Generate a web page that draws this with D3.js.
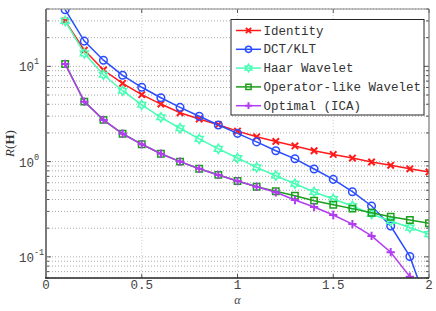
<!DOCTYPE html>
<html><head><meta charset="utf-8">
<script src="https://cdn.jsdelivr.net/npm/d3@7"></script>
<style>body{margin:0;background:#fff}svg{display:block}</style>
</head><body><svg id="c" width="436" height="311"></svg>
<script>
const alpha = [0.1,0.2,0.3,0.4,0.5,0.6,0.7,0.8,0.9,1.0,1.1,1.2,1.3,1.4,1.5,1.6,1.7,1.8,1.9,2.0];
const identity = [30,14.8,9.15,6.64,5.04,4.02,3.26,2.80,2.44,2.09,1.82,1.63,1.46,1.30,1.19,1.09,0.99,0.914,0.84,0.78];
const dct = [39.3,18.4,11.6,8.05,6.03,4.68,3.71,2.99,2.42,1.98,1.61,1.30,1.07,0.836,0.651,0.483,0.342,0.211,0.101,0.028];
const haar = [30,13.7,8.17,5.55,3.95,2.92,2.24,1.73,1.36,1.09,0.87,0.711,0.586,0.48,0.405,0.342,0.282,0.238,0.203,0.173];
const operatorLike = [10.6,4.26,2.74,1.96,1.52,1.21,1.0,0.84,0.725,0.625,0.545,0.488,0.438,0.389,0.353,0.321,0.291,0.264,0.244,0.225];
const optimal = [10.6,4.26,2.74,1.96,1.52,1.21,1.0,0.84,0.725,0.625,0.545,0.476,0.395,0.334,0.275,0.221,0.166,0.112,0.062,0.025];
const seriesNames = ["Identity","DCT/KLT","Haar Wavelet","Operator-like Wavelet","Optimal (ICA)"];
const xTicks = [0,0.5,1,1.5,2];
const xTickLabels = ["0","0.5","1","1.5","2"];
const yMajorTicks = [0.1,1,10];
const yTickExps = ["-1","0","1"];

const series = [
  {name:seriesNames[0], values:identity, color:"#ff1a1a", marker:"x"},
  {name:seriesNames[1], values:dct, color:"#2a4dff", marker:"o"},
  {name:seriesNames[2], values:haar, color:"#47ffb4", marker:"h"},
  {name:seriesNames[3], values:operatorLike, color:"#1d9e1d", marker:"s"},
  {name:seriesNames[4], values:optimal, color:"#b23cf0", marker:"+"}
];

const svg = d3.select("#c");
const L=46,R=429,T=9,B=278;
const x = d3.scaleLinear().domain([0,2]).range([L,R]);
const y = d3.scaleLog().domain([0.06,40]).range([B,T]);
const mono = "'Liberation Mono','DejaVu Sans Mono',monospace";

const yAll = [];
for (let e=-2;e<=1;e++) for (let m=1;m<=9;m++){const v=m*Math.pow(10,e); if(v>=0.06&&v<=40) yAll.push(v);}

const grid = svg.append("g");
grid.selectAll("line.h").data(yAll).join("line")
  .attr("x1",L).attr("x2",R).attr("y1",d=>y(d)).attr("y2",d=>y(d))
  .attr("stroke","#a8a8a8").attr("stroke-width",1).attr("stroke-dasharray","1,2");
grid.selectAll("line.v").data(xTicks.slice(1,-1)).join("line")
  .attr("y1",T).attr("y2",B).attr("x1",d=>x(d)).attr("x2",d=>x(d))
  .attr("stroke","#d0d0d0").attr("stroke-width",1).attr("stroke-dasharray","1,2");

const tk = svg.append("g").attr("stroke","#555");
yAll.forEach(v=>{
  const len = yMajorTicks.includes(v)?5:3;
  tk.append("line").attr("x1",L).attr("x2",L+len).attr("y1",y(v)).attr("y2",y(v));
  tk.append("line").attr("x1",R).attr("x2",R-len).attr("y1",y(v)).attr("y2",y(v));
});
xTicks.forEach(v=>{
  tk.append("line").attr("x1",x(v)).attr("x2",x(v)).attr("y1",B).attr("y2",B-4);
  tk.append("line").attr("x1",x(v)).attr("x2",x(v)).attr("y1",T).attr("y2",T+4);
});

svg.append("clipPath").attr("id","clip").append("rect").attr("x",L).attr("y",T).attr("width",R-L).attr("height",B-T);

function markerPath(type, s){
  if(type==="x") return `M${-s},${-s}L${s},${s}M${-s},${s}L${s},${-s}`;
  if(type==="+") return `M${-s*1.3},0L${s*1.3},0M0,${-s*1.3}L0,${s*1.3}`;
  if(type==="s") return `M${-s},${-s}H${s}V${s}H${-s}Z`;
  if(type==="o") return d3.symbol(d3.symbolCircle, Math.PI*s*s*1.4)();
  if(type==="h"){
    const r=s*1.45, ri=r*0.577; let p="";
    for(let i=0;i<12;i++){const a=-Math.PI/2+i*Math.PI/6; const rr=i%2?ri:r; p+=(i?"L":"M")+(rr*Math.cos(a)).toFixed(2)+","+(rr*Math.sin(a)).toFixed(2);}
    return p+"Z";
  }
}

const plot = svg.append("g").attr("clip-path","url(#clip)");
const line = d3.line().x((d,i)=>x(alpha[i])).y(d=>y(d));
series.forEach(s=>{
  const g = plot.append("g");
  g.append("path").attr("d",line(s.values)).attr("fill","none").attr("stroke",s.color).attr("stroke-width",1.5);
  g.selectAll("path.m").data(s.values).join("path")
    .attr("d",markerPath(s.marker,3.2))
    .attr("transform",(d,i)=>`translate(${x(alpha[i])},${y(d)})`)
    .attr("fill","none").attr("stroke",s.color).attr("stroke-width",s.marker==="x"||s.marker==="+"?2:1.5);
});

svg.append("line").attr("x1",L).attr("x2",R).attr("y1",T).attr("y2",T).attr("stroke","#888").attr("stroke-width",1);
svg.append("line").attr("x1",R).attr("x2",R).attr("y1",T).attr("y2",B).attr("stroke","#777").attr("stroke-width",1.2);
svg.append("line").attr("x1",L).attr("x2",L).attr("y1",T).attr("y2",B).attr("stroke","#7a7a7a").attr("stroke-width",2);
svg.append("line").attr("x1",L-1).attr("x2",R).attr("y1",B).attr("y2",B).attr("stroke","#262626").attr("stroke-width",1.5);

svg.selectAll("text.xt").data(xTicks).join("text")
  .attr("x",d=>x(d)).attr("y",289).attr("text-anchor","middle")
  .attr("font-family",mono).attr("font-size",12.5).attr("fill","#444")
  .text((d,i)=>xTickLabels[i]);
yMajorTicks.forEach((v,i)=>{
  svg.append("text").attr("x",34).attr("y",y(v)+5).attr("text-anchor","end")
    .attr("font-family",mono).attr("font-size",12.5).attr("fill","#444").text("10");
  svg.append("text").attr("x",34).attr("y",y(v)-2).attr("text-anchor","start")
    .attr("font-family",mono).attr("font-size",8.5).attr("fill","#444").text(yTickExps[i]);
});

svg.append("text").attr("x",x(1)).attr("y",304).attr("text-anchor","middle")
  .attr("font-family","'Liberation Serif','DejaVu Serif',serif").attr("font-style","italic")
  .attr("font-size",12).attr("fill","#444").text("α");
const yl = svg.append("text").attr("transform",`translate(14,${(T+B)/2}) rotate(-90)`).attr("text-anchor","middle")
  .attr("font-family","'Liberation Serif','DejaVu Serif',serif").attr("font-size",13).attr("fill","#333");
yl.append("tspan").attr("font-style","italic").text("R");
yl.append("tspan").text("(");
yl.append("tspan").attr("font-weight","bold").text("H");
yl.append("tspan").text(")");

const lg = svg.append("g");
lg.append("rect").attr("x",231).attr("y",19.5).attr("width",193).attr("height",95.5)
  .attr("fill","#fff").attr("stroke","#262626").attr("stroke-width",1);
series.forEach((s,i)=>{
  const yy = 30.5 + i*18.8;
  lg.append("line").attr("x1",236).attr("x2",261).attr("y1",yy).attr("y2",yy).attr("stroke",s.color).attr("stroke-width",1.5);
  lg.append("path").attr("d",markerPath(s.marker,2.6)).attr("transform",`translate(248.5,${yy})`)
    .attr("fill","none").attr("stroke",s.color).attr("stroke-width",s.marker==="x"||s.marker==="+"?2:1.5);
  lg.append("text").attr("x",263.5).attr("y",yy+4).attr("font-family",mono).attr("font-size",12.5)
    .attr("fill","#333").text(s.name);
});
</script></body></html>
